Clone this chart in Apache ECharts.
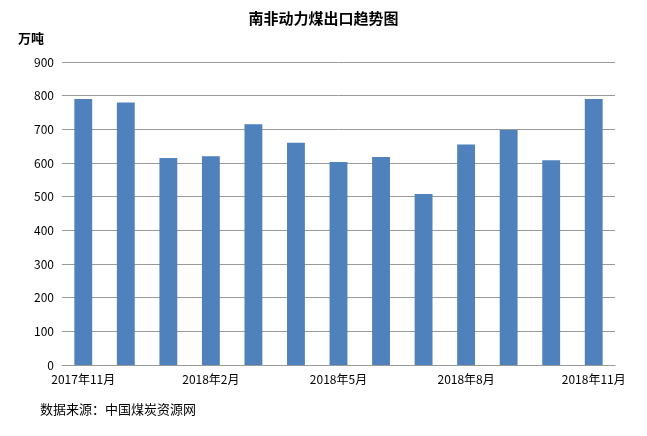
<!DOCTYPE html>
<html>
<head>
<meta charset="utf-8">
<script src="https://cdn.jsdelivr.net/npm/echarts@6/dist/echarts.min.js"></script>
<style>html,body{margin:0;padding:0;background:#fff}.main{width:647px;height:436px}</style>
</head>
<body>
<div class="main"></div>
<script>
let months = ['2017年11月', '2017年12月', '2018年1月', '2018年2月', '2018年3月', '2018年4月', '2018年5月',
  '2018年6月', '2018年7月', '2018年8月', '2018年9月', '2018年10月', '2018年11月'];
let exports = [790, 780, 615, 620, 715, 660, 603, 618, 508, 655, 698, 608, 790];

let myChart = echarts.init(document.querySelector('.main'));

let option = {
  backgroundColor: '#fff',
  textStyle: { fontFamily: 'Noto Sans CJK SC' },
  title: {
    text: '南非动力煤出口趋势图',
    left: 'center',
    top: 6,
    textStyle: { fontSize: 15, fontWeight: 'bold', color: '#000' }
  },
  graphic: [
    { type: 'text', left: 18, top: 32, style: { text: '万吨', font: 'bold 13px "Noto Sans CJK SC"', fill: '#000' } },
    { type: 'text', left: 40, top: 403, style: { text: '数据来源：中国煤炭资源网', font: '13px "Noto Sans CJK SC"', fill: '#000' } }
  ],
  grid: { left: 62, right: 32, top: 62, bottom: 71 },
  xAxis: {
    type: 'category',
    data: months,
    axisTick: { show: false },
    axisLine: { lineStyle: { color: '#999' } },
    axisLabel: { interval: 2, color: '#000', fontSize: 12, margin: 8 }
  },
  yAxis: {
    type: 'value',
    min: 0, max: 900, interval: 100,
    axisLine: { show: false },
    axisTick: { show: false },
    axisLabel: { color: '#000', fontSize: 12 },
    splitLine: { lineStyle: { color: '#999' } }
  },
  series: [{
    type: 'bar',
    data: exports,
    barWidth: '42%',
    itemStyle: { color: '#4f81bd' }
  }]
};
myChart.setOption(option);
</script>
</body>
</html>
